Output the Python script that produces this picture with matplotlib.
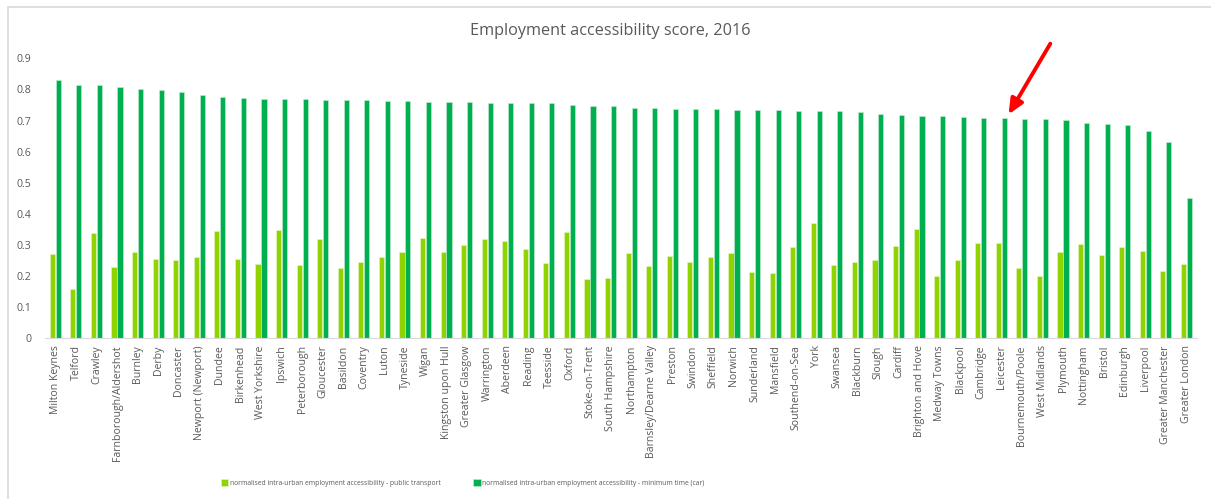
import numpy as np
import matplotlib
matplotlib.use("Agg")
import matplotlib.pyplot as plt
from matplotlib.patches import Rectangle

plt.rcParams['font.family'] = ['Open Sans', 'DejaVu Sans']

# cities, ordered by car score
cities = ["Milton Keynes", "Telford", "Crawley", "Farnborough/Aldershot", "Burnley", "Derby",
          "Doncaster", "Newport (Newport)", "Dundee", "Birkenhead", "West Yorkshire", "Ipswich",
          "Peterborough", "Gloucester", "Basildon", "Coventry", "Luton", "Tyneside", "Wigan",
          "Kingston upon Hull", "Greater Glasgow", "Warrington", "Aberdeen", "Reading", "Teesside",
          "Oxford", "Stoke-on-Trent", "South Hampshire", "Northampton", "Barnsley/Dearne Valley",
          "Preston", "Swindon", "Sheffield", "Norwich", "Sunderland", "Mansfield", "Southend-on-Sea",
          "York", "Swansea", "Blackburn", "Slough", "Cardiff", "Brighton and Hove", "Medway Towns",
          "Blackpool", "Cambridge", "Leicester", "Bournemouth/Poole", "West Midlands", "Plymouth",
          "Nottingham", "Bristol", "Edinburgh", "Liverpool", "Greater Manchester", "Greater London"]

public_transport = [0.271, 0.160, 0.340, 0.230, 0.277, 0.255, 0.252, 0.261, 0.345, 0.254,
                    0.239, 0.349, 0.237, 0.319, 0.227, 0.244, 0.261, 0.278, 0.323, 0.277,
                    0.301, 0.318, 0.312, 0.287, 0.243, 0.341, 0.192, 0.195, 0.274, 0.231,
                    0.266, 0.244, 0.262, 0.273, 0.212, 0.209, 0.293, 0.371, 0.236, 0.244,
                    0.253, 0.297, 0.350, 0.201, 0.251, 0.306, 0.307, 0.225, 0.199, 0.276,
                    0.303, 0.268, 0.293, 0.282, 0.217, 0.239]

car_min_time = [0.832, 0.816, 0.814, 0.807, 0.800, 0.797, 0.793, 0.783, 0.775, 0.773,
                0.769, 0.769, 0.769, 0.766, 0.765, 0.765, 0.764, 0.762, 0.760, 0.759,
                0.759, 0.757, 0.757, 0.755, 0.755, 0.749, 0.748, 0.746, 0.742, 0.739,
                0.737, 0.737, 0.737, 0.735, 0.735, 0.734, 0.731, 0.730, 0.730, 0.729,
                0.722, 0.718, 0.714, 0.714, 0.711, 0.708, 0.707, 0.706, 0.704, 0.701,
                0.691, 0.688, 0.687, 0.667, 0.631, 0.452]

yticks = [0, 0.1, 0.2, 0.3, 0.4, 0.5, 0.6, 0.7, 0.8, 0.9]
ytick_labels = ["0", "0.1", "0.2", "0.3", "0.4", "0.5", "0.6", "0.7", "0.8", "0.9"]

pt_color = "#8fd400"
car_color = "#00b050"
grey_text = "#595959"

fig = plt.figure(figsize=(12.11, 4.99), dpi=100)
ax = fig.add_axes([0.0372, 0.322, 0.951, 0.561])

x = np.arange(len(cities))
w = 0.25
ax.bar(x - 0.145, public_transport, w, color=pt_color, edgecolor="#e6f5c8", linewidth=0.4,
       label="normalised intra-urban employment accessibility - public transport")
ax.bar(x + 0.145, car_min_time, w, color=car_color, edgecolor="#c8eed6", linewidth=0.4,
       label="normalised intra-urban employment accessibility - minimum time (car)")

ax.set_xlim(-0.5, len(cities) - 0.5)
ax.set_ylim(0, 0.9)
ax.set_yticks(yticks)
ax.set_yticklabels(ytick_labels)
ax.set_xticks(x)
ax.set_xticklabels(cities, rotation=90)
ax.tick_params(axis="both", length=0, labelsize=7.6, colors=grey_text)
ax.tick_params(axis="y", pad=10)
ax.tick_params(axis="x", pad=5)
for s in ["top", "right", "left"]:
    ax.spines[s].set_visible(False)
ax.spines["bottom"].set_color("#d9d9d9")

fig.text(0.504, 0.938, "Employment accessibility score, 2016", ha="center", va="center",
         fontsize=11.7, color=grey_text)

# arrow pointing at Leicester
i = cities.index("Leicester")
ax.annotate("", xy=(i + 0.28, car_min_time[i] + 0.005), xytext=(i + 2.45, 0.955),
            arrowprops=dict(arrowstyle="-|>,head_width=0.4,head_length=0.9", color="red", lw=2.8),
            annotation_clip=False)

leg = fig.legend(loc="center", bbox_to_anchor=(0.382, 0.032), ncol=2, frameon=False,
                 fontsize=4.9, labelcolor=grey_text, handlelength=1.1, handleheight=1.1,
                 handletextpad=0.2, columnspacing=4.8)

# chart area border (cut at right and bottom)
fig.patches.append(Rectangle((8 / 1211, -0.1), 1.2, 1 - 7 / 499 + 0.1, transform=fig.transFigure,
                             fill=False, edgecolor="#d9d9d9", linewidth=1.2))

fig.savefig("out.png", dpi=100)
